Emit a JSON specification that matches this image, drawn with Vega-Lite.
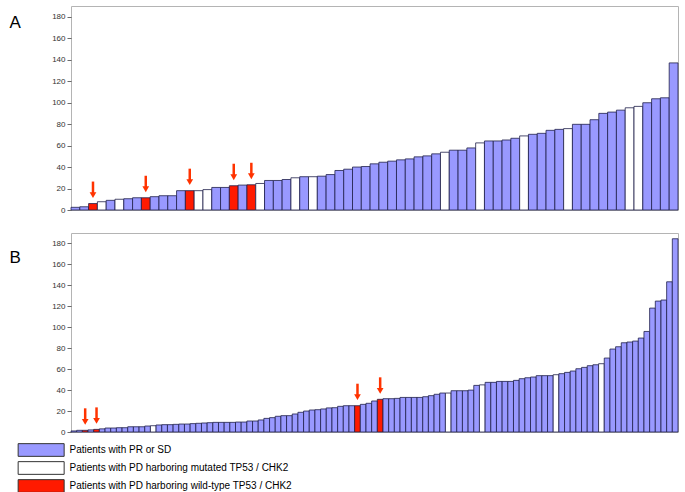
{
  "$schema": "https://vega.github.io/schema/vega-lite/v6.json",
  "padding": {"left": 8, "top": 5, "right": 0, "bottom": 0},
  "background": "white",
  "config": {
    "font": "Liberation Sans",
    "view": {"stroke": "#b4b4b4", "strokeWidth": 1},
    "axis": {
      "domain": false, "grid": false, "tickColor": "#444", "tickSize": 4, "tickWidth": 0.8,
      "labelFont": "Liberation Sans", "labelFontSize": 8, "labelColor": "#333", "labelPadding": 2,
      "labelOverlap": false, "labelFlush": false,
      "titleAngle": 0, "titleFont": "Liberation Sans", "titleFontSize": 17, "titleFontWeight": "normal",
      "titleColor": "black", "titleAlign": "left", "titleBaseline": "alphabetic", "titleX": -62, "titleY": 21
    },
    "legend": {
      "orient": "none", "legendX": -53.5, "legendY": 436, "title": null,
      "symbolType": "M-1,-0.864H5.26V0.864H-1Z", "symbolSize": 216,
      "symbolStrokeColor": "#333", "symbolStrokeWidth": 1, "symbolOpacity": 1,
      "labelFont": "Liberation Sans", "labelFontSize": 10, "labelColor": "black", "labelOffset": 36,
      "labelLimit": 400, "rowPadding": 0
    }
  },
  "datasets": {
    "A": [
      {"i":1,"v":2.5,"g":"s"},{"i":2,"v":3,"g":"s"},{"i":3,"v":6,"g":"w"},{"i":4,"v":7.7,"g":"m"},{"i":5,"v":9,"g":"s"},
      {"i":6,"v":10,"g":"m"},{"i":7,"v":10.5,"g":"s"},{"i":8,"v":11.4,"g":"s"},{"i":9,"v":11.4,"g":"w"},{"i":10,"v":12.4,"g":"s"},
      {"i":11,"v":13.3,"g":"s"},{"i":12,"v":13.3,"g":"s"},{"i":13,"v":18,"g":"s"},{"i":14,"v":18,"g":"w"},{"i":15,"v":18,"g":"m"},
      {"i":16,"v":19,"g":"m"},{"i":17,"v":21,"g":"s"},{"i":18,"v":21,"g":"s"},{"i":19,"v":22.6,"g":"w"},{"i":20,"v":23.2,"g":"s"},
      {"i":21,"v":23.5,"g":"w"},{"i":22,"v":24.7,"g":"m"},{"i":23,"v":27.5,"g":"s"},{"i":24,"v":27.5,"g":"s"},{"i":25,"v":28.4,"g":"s"},
      {"i":26,"v":30,"g":"m"},{"i":27,"v":31,"g":"s"},{"i":28,"v":31,"g":"m"},{"i":29,"v":31.5,"g":"s"},{"i":30,"v":33,"g":"s"},
      {"i":31,"v":36.8,"g":"s"},{"i":32,"v":38,"g":"s"},{"i":33,"v":40,"g":"s"},{"i":34,"v":40.5,"g":"s"},{"i":35,"v":43,"g":"s"},
      {"i":36,"v":44.5,"g":"s"},{"i":37,"v":45.5,"g":"s"},{"i":38,"v":46.7,"g":"s"},{"i":39,"v":47.6,"g":"s"},{"i":40,"v":49.5,"g":"s"},
      {"i":41,"v":50.4,"g":"s"},{"i":42,"v":52.3,"g":"s"},{"i":43,"v":53.8,"g":"m"},{"i":44,"v":55.7,"g":"s"},{"i":45,"v":55.7,"g":"s"},
      {"i":46,"v":57.8,"g":"s"},{"i":47,"v":62.5,"g":"m"},{"i":48,"v":64.3,"g":"s"},{"i":49,"v":64.3,"g":"s"},{"i":50,"v":65.2,"g":"s"},
      {"i":51,"v":66.8,"g":"s"},{"i":52,"v":69,"g":"m"},{"i":53,"v":70.5,"g":"s"},{"i":54,"v":71.4,"g":"s"},{"i":55,"v":74.2,"g":"s"},
      {"i":56,"v":75.1,"g":"s"},{"i":57,"v":75.8,"g":"m"},{"i":58,"v":79.8,"g":"s"},{"i":59,"v":79.8,"g":"s"},{"i":60,"v":84.1,"g":"s"},
      {"i":61,"v":90,"g":"s"},{"i":62,"v":91.2,"g":"s"},{"i":63,"v":93,"g":"s"},{"i":64,"v":95.2,"g":"m"},{"i":65,"v":96.5,"g":"m"},
      {"i":66,"v":99.9,"g":"s"},{"i":67,"v":103.6,"g":"s"},{"i":68,"v":104.5,"g":"s"},{"i":69,"v":137,"g":"s"}
    ],
    "B": [
      {"i":1,"v":1,"g":"s"},{"i":2,"v":1.6,"g":"s"},{"i":3,"v":1.6,"g":"w"},{"i":4,"v":2,"g":"s"},{"i":5,"v":2.5,"g":"w"},
      {"i":6,"v":3,"g":"s"},{"i":7,"v":3.8,"g":"s"},{"i":8,"v":3.8,"g":"s"},{"i":9,"v":4.1,"g":"s"},{"i":10,"v":4.1,"g":"s"},
      {"i":11,"v":5,"g":"s"},{"i":12,"v":5,"g":"s"},{"i":13,"v":5,"g":"s"},{"i":14,"v":5.7,"g":"s"},{"i":15,"v":6,"g":"m"},
      {"i":16,"v":6.7,"g":"s"},{"i":17,"v":7,"g":"s"},{"i":18,"v":7,"g":"s"},{"i":19,"v":7.3,"g":"s"},{"i":20,"v":7.6,"g":"s"},
      {"i":21,"v":7.6,"g":"s"},{"i":22,"v":8,"g":"s"},{"i":23,"v":8.3,"g":"s"},{"i":24,"v":8.6,"g":"s"},{"i":25,"v":8.9,"g":"s"},
      {"i":26,"v":9.2,"g":"s"},{"i":27,"v":9.2,"g":"s"},{"i":28,"v":9.2,"g":"s"},{"i":29,"v":9.2,"g":"s"},{"i":30,"v":9.5,"g":"s"},
      {"i":31,"v":9.5,"g":"s"},{"i":32,"v":10.5,"g":"s"},{"i":33,"v":10.5,"g":"s"},{"i":34,"v":11.5,"g":"s"},{"i":35,"v":13,"g":"s"},
      {"i":36,"v":13.7,"g":"s"},{"i":37,"v":15,"g":"s"},{"i":38,"v":15.6,"g":"s"},{"i":39,"v":15.6,"g":"s"},{"i":40,"v":17.2,"g":"s"},
      {"i":41,"v":18.8,"g":"s"},{"i":42,"v":20,"g":"s"},{"i":43,"v":21,"g":"s"},{"i":44,"v":21.3,"g":"s"},{"i":45,"v":22,"g":"s"},
      {"i":46,"v":23,"g":"s"},{"i":47,"v":23.2,"g":"s"},{"i":48,"v":24.5,"g":"s"},{"i":49,"v":25.1,"g":"s"},{"i":50,"v":25.1,"g":"s"},
      {"i":51,"v":25.1,"g":"w"},{"i":52,"v":26.4,"g":"s"},{"i":53,"v":27.4,"g":"s"},{"i":54,"v":29.6,"g":"s"},{"i":55,"v":31.2,"g":"w"},
      {"i":56,"v":31.8,"g":"s"},{"i":57,"v":31.8,"g":"s"},{"i":58,"v":32.1,"g":"s"},{"i":59,"v":33,"g":"s"},{"i":60,"v":33,"g":"s"},
      {"i":61,"v":33,"g":"s"},{"i":62,"v":33,"g":"s"},{"i":63,"v":33.7,"g":"s"},{"i":64,"v":34.7,"g":"s"},{"i":65,"v":36,"g":"s"},
      {"i":66,"v":37.2,"g":"s"},{"i":67,"v":37.2,"g":"m"},{"i":68,"v":39.4,"g":"s"},{"i":69,"v":39.4,"g":"s"},{"i":70,"v":39.4,"g":"s"},
      {"i":71,"v":40,"g":"s"},{"i":72,"v":44.5,"g":"s"},{"i":73,"v":45,"g":"m"},{"i":74,"v":47.4,"g":"s"},{"i":75,"v":47.4,"g":"s"},
      {"i":76,"v":48.3,"g":"s"},{"i":77,"v":48.3,"g":"s"},{"i":78,"v":48.3,"g":"s"},{"i":79,"v":49.3,"g":"s"},{"i":80,"v":50.9,"g":"s"},
      {"i":81,"v":51.8,"g":"s"},{"i":82,"v":52.5,"g":"s"},{"i":83,"v":53.8,"g":"s"},{"i":84,"v":53.8,"g":"s"},{"i":85,"v":53.8,"g":"s"},
      {"i":86,"v":54.7,"g":"m"},{"i":87,"v":55.7,"g":"s"},{"i":88,"v":56.9,"g":"s"},{"i":89,"v":58.2,"g":"s"},{"i":90,"v":60.4,"g":"s"},
      {"i":91,"v":61.7,"g":"s"},{"i":92,"v":63.3,"g":"s"},{"i":93,"v":64.2,"g":"s"},{"i":94,"v":65.2,"g":"m"},{"i":95,"v":70.6,"g":"s"},
      {"i":96,"v":79.2,"g":"s"},{"i":97,"v":81.4,"g":"s"},{"i":98,"v":85.2,"g":"s"},{"i":99,"v":85.9,"g":"s"},{"i":100,"v":86.8,"g":"s"},
      {"i":101,"v":89.7,"g":"s"},{"i":102,"v":96,"g":"s"},{"i":103,"v":118.3,"g":"s"},{"i":104,"v":125,"g":"s"},{"i":105,"v":126,"g":"s"},
      {"i":106,"v":143.4,"g":"s"},{"i":107,"v":184.5,"g":"s"}
    ]
  },
  "spacing": 17,
  "vconcat": [
    {
      "width": 607, "height": 204,
      "data": {"name": "A"},
      "encoding": {
        "x": {"field": "i", "type": "ordinal", "axis": null, "scale": {"paddingInner": 0, "paddingOuter": 0}},
        "y": {"field": "v", "type": "quantitative", "scale": {"domain": [0, 190], "nice": false},
              "axis": {"title": "A", "values": [0,20,40,60,80,100,120,140,160,180]}}
      },
      "layer": [
        {
          "mark": {"type": "bar", "stroke": "#20204a", "strokeWidth": 0.8},
          "encoding": {
            "fill": {"field": "g", "type": "nominal",
                     "scale": {"domain": ["s","m","w"], "range": ["#9999ff","#ffffff","#ff1a00"]},
                     "legend": {"labelExpr": "datum.label == 's' ? 'Patients with PR or SD' : datum.label == 'm' ? 'Patients with PD harboring mutated TP53 / CHK2' : 'Patients with PD harboring wild-type TP53 / CHK2'"}}
          }
        },
        {
          "transform": [{"filter": "datum.g == 'w'"}],
          "mark": {"type": "rule", "color": "#ff3300", "strokeWidth": 2.5, "yOffset": -10, "y2Offset": -22},
          "encoding": {"y2": {"field": "v"}}
        },
        {
          "transform": [{"filter": "datum.g == 'w'"}],
          "mark": {"type": "point", "shape": "triangle-down", "filled": true, "color": "#ff3300", "opacity": 1, "size": 45, "yOffset": -8.5},
          "encoding": {}
        }
      ]
    },
    {
      "width": 607, "height": 199,
      "data": {"name": "B"},
      "encoding": {
        "x": {"field": "i", "type": "ordinal", "axis": null, "scale": {"paddingInner": 0, "paddingOuter": 0}},
        "y": {"field": "v", "type": "quantitative", "scale": {"domain": [0, 190], "nice": false},
              "axis": {"title": "B", "values": [0,20,40,60,80,100,120,140,160,180], "titleY": 29}}
      },
      "layer": [
        {
          "mark": {"type": "bar", "stroke": "#20204a", "strokeWidth": 0.8},
          "encoding": {"fill": {"field": "g", "type": "nominal"}}
        },
        {
          "transform": [{"filter": "datum.g == 'w'"}],
          "mark": {"type": "rule", "color": "#ff3300", "strokeWidth": 2.5, "yOffset": -10, "y2Offset": -22},
          "encoding": {"y2": {"field": "v"}}
        },
        {
          "transform": [{"filter": "datum.g == 'w'"}],
          "mark": {"type": "point", "shape": "triangle-down", "filled": true, "color": "#ff3300", "opacity": 1, "size": 45, "yOffset": -8.5},
          "encoding": {}
        }
      ]
    }
  ]
}
